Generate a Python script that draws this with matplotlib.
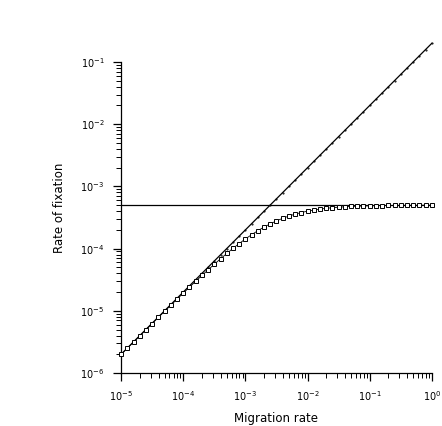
import matplotlib
matplotlib.use("Agg")
import matplotlib.pyplot as plt
import numpy as np
from matplotlib.ticker import FixedLocator, NullFormatter

# migration rates (log-spaced, 10 per decade)
migration = [10 ** (-5 + 0.1 * k) for k in range(51)]

# simulated rate of fixation (squares)
fixation = [1.99e-6, 2.51e-6, 3.15e-6, 3.96e-6, 4.97e-6, 6.24e-6, 7.84e-6, 9.83e-6,
            1.231e-5, 1.54e-5, 1.923e-5, 2.40e-5, 2.98e-5, 3.70e-5, 4.56e-5, 5.61e-5,
            6.87e-5, 8.35e-5, 1.008e-4, 1.206e-4, 1.429e-4, 1.675e-4, 1.940e-4, 2.219e-4,
            2.504e-4, 2.791e-4, 3.071e-4, 3.335e-4, 3.581e-4, 3.803e-4, 4.0e-4, 4.172e-4,
            4.319e-4, 4.443e-4, 4.548e-4, 4.630e-4, 4.705e-4, 4.762e-4, 4.81e-4, 4.847e-4,
            4.878e-4, 4.903e-4, 4.922e-4, 4.938e-4, 4.951e-4, 4.961e-4, 4.969e-4, 4.975e-4,
            4.980e-4, 4.984e-4, 4.988e-4]

# low-migration approximation (diagonal)
diag_x = [1e-5, 1e-4, 1e-3, 1e-2, 1e-1, 1e0]
diag_y = [2e-6, 2e-5, 2e-4, 2e-3, 2e-2, 2e-1]

# high-migration limit (horizontal)
limit_x = [1e-5, 1e0]
limit_y = [5e-4, 5e-4]

x_ticks = [1e-5, 1e-4, 1e-3, 1e-2, 1e-1, 1e0]
y_ticks = [1e-6, 1e-5, 1e-4, 1e-3, 1e-2, 1e-1]

fig = plt.figure(figsize=(4.42, 4.26), dpi=100)
ax = fig.add_axes([0.274, 0.1244, 0.703, 0.774])

ax.plot(diag_x, diag_y, color="black", lw=0.9, clip_on=False, zorder=3)
ax.plot(migration, [0.2 * m for m in migration], ls="none", marker=".", ms=1.0,
        color="black", clip_on=False, zorder=3)
ax.plot(limit_x, limit_y, color="black", lw=0.9, zorder=2)
ax.plot(migration, fixation, color="black", lw=0.6, marker="s", ms=3.2,
        mfc="white", mec="black", mew=0.7, clip_on=False, zorder=4)

ax.set_xscale("log")
ax.set_yscale("log")
ax.set_xlim(1e-5, 1e0)
ax.set_ylim(1e-6, 0.2)

for s in ["top", "right"]:
    ax.spines[s].set_visible(False)
ax.spines["left"].set_bounds(1e-6, 1e-1)
ax.spines["left"].set_linewidth(0.9)
ax.spines["bottom"].set_linewidth(0.9)

ax.set_xticks(x_ticks)
ax.set_yticks(y_ticks)
x_minor = [s * t for t in x_ticks[:-1] for s in range(2, 10)]
y_minor = [s * t for t in y_ticks[:-1] for s in range(2, 10)]
ax.xaxis.set_minor_locator(FixedLocator(x_minor))
ax.yaxis.set_minor_locator(FixedLocator(y_minor))
ax.xaxis.set_minor_formatter(NullFormatter())
ax.yaxis.set_minor_formatter(NullFormatter())
ax.tick_params(which="major", direction="out", length=6, width=0.9, labelsize=7, pad=6)
ax.tick_params(which="minor", direction="out", length=3.5, width=0.7)

ax.set_xlabel("Migration rate", fontsize=8.5, labelpad=6)
ax.set_ylabel("Rate of fixation", fontsize=8.5, labelpad=10)

fig.savefig("out.png", dpi=100)
